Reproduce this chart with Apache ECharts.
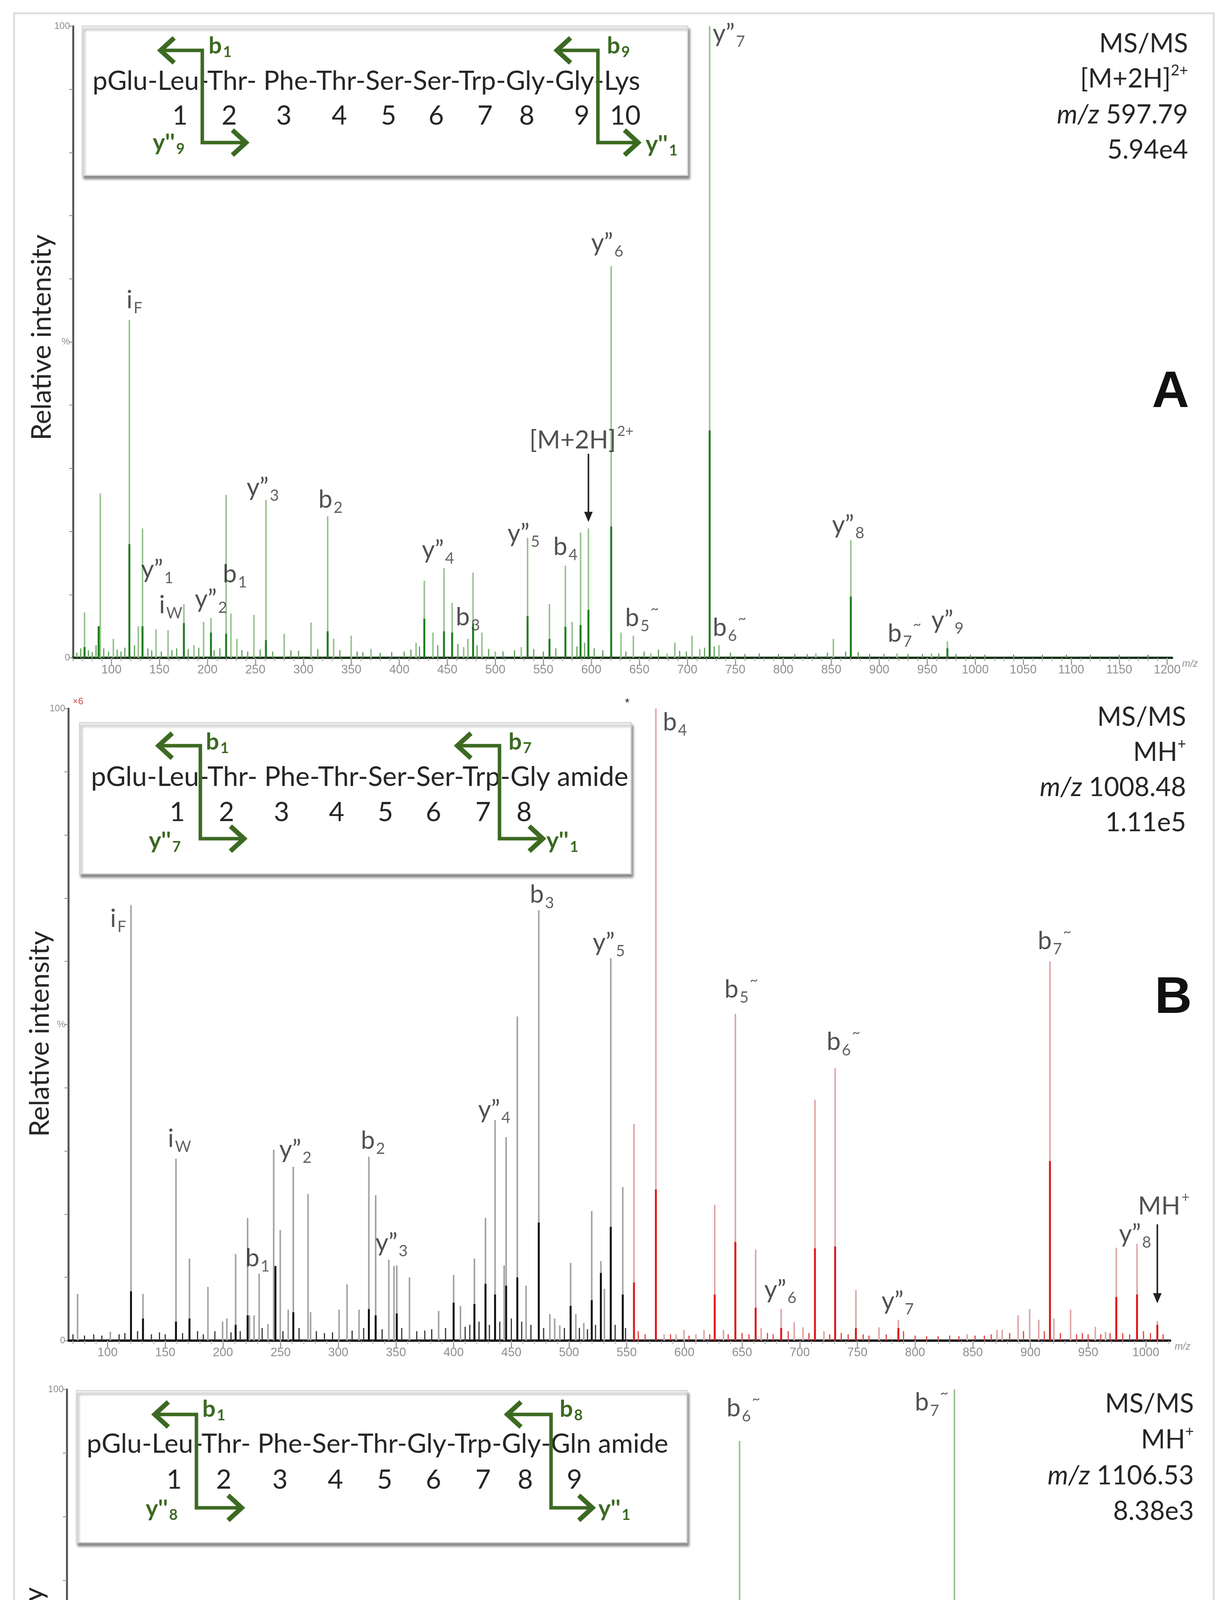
<!DOCTYPE html>
<html><head><meta charset="utf-8">
<script src="https://cdn.jsdelivr.net/npm/echarts@6/dist/echarts.min.js"></script>
<style>html,body{margin:0;padding:0;background:#fff}#c{width:3147px;height:5315px}</style>
</head><body><div id="c"></div>
<script>
// ---------------- DATA ----------------
// Panel A  [m/z, relative intensity %]
const peaksA = [[72,7.2],[86.7,5],[88.4,26],[102,3],[118.7,53.5],[128,5],[132.4,20.5],[146.5,4.5],[159,4.4],[175.5,8.5],[186,2],[196,5.7],[203.7,6.3],[219.5,25.8],[224.5,7],[230.7,3],[248.5,6.8],[261,25],[280,3.8],[308,5.6],[325.3,22.4],[331.5,3],[349.8,3.5],[370.5,1.4],[417.4,2.4],[426,12.2],[435,4],[446.5,14.2],[455,8.7],[467,1.7],[471.4,3],[476.8,13.5],[486,4],[500,1],[527,1.7],[533.6,19],[556.4,8.5],[573,14.6],[580,5.7],[588.8,19.8],[597,20.5],[620.7,62],[631,4],[643.8,3.5],[662,0.7],[679,0.7],[687,2.4],[705,3.5],[713,1.4],[723.3,100],[733,2],[834,0.7],[852.2,3],[870.4,18.6],[918.5,0.7],[954.5,0.7],[971,2.6]];
const coresA = [[72,1.7],[86.7,5],[118.7,18],[132.4,5],[175.5,5.5],[203.7,4],[219.5,3.8],[261,2.8],[325.3,4.2],[426,6.2],[446.5,4.2],[455,4],[476.8,5.5],[533.6,6.6],[556.4,3],[573,4.9],[588.8,5.2],[597,7.6],[620.7,20.8],[723.3,36],[870.4,9.7],[971,1.5]];
const noiseA = [[64,0.8],[68,1.5],[76,1.2],[80,0.9],[84,2],[92,1.5],[97,1],[106,1.3],[110,1],[114,1.6],[124,2],[138,1.5],[142,1.2],[152,1],[163,1.2],[168,1.5],[180,1.4],[191,1.6],[207,1.2],[213,1.5],[236,1.2],[242,1],[255,1.3],[268,1],[287,1.2],[295,1.1],[315,1.4],[338,1.2],[356,1],[362,0.9],[380,0.8],[392,0.9],[405,1],[412,1.3],[421,1.8],[440,2],[461,2.2],[481,2],[493,1.4],[508,1],[520,1.2],[540,1.4],[550,1],[563,1.5],[585,1.8],[593,2.4],[603,1.5],[612,1.2],[636,1],[655,1],[670,1.3],[692,1.1],[699,1],[718,1.6],[728,1.8],[745,0.8],[760,0.6],[775,0.7],[795,0.6],[812,0.6],[825,0.6],[846,0.8],[865,1],[878,0.9],[890,0.6],[905,0.6],[930,0.6],[945,0.6],[962,0.7],[980,0.6],[995,0.5],[1010,0.5],[1040,0.5],[1070,0.5],[1095,0.5],[1120,0.5],[1150,0.5],[1180,0.5]];
// labels: [m/z, y%, base, subscript, superscript]
const labelsA = [[115.8,56.6,'i','F',''],[131.1,13.9,'y”','1',''],[149.8,8.3,'i','W',''],[187.1,9.2,'y”','2',''],[216.2,13.2,'b','1',''],[241.1,26.9,'y”','3',''],[315.8,25,'b','2',''],[423.7,17,'y”','4',''],[459,6.4,'b','3',''],[512.9,19.6,'y”','5',''],[560.6,17.5,'b','4',''],[535.7,34.4,'[M+2H]','','2+'],[600,65.6,'y”','6',''],[726.7,98.8,'y”','7',''],[635.5,6.25,'b','5','~'],[726.7,4.7,'b','6','~'],[851,21,'y”','8',''],[909,3.8,'b','7','~'],[954.5,5.9,'y”','9','']];
const arrowsA = [[597,32.3,21.5]];
const ticksA = [100,150,200,250,300,350,400,450,500,550,600,650,700,750,800,850,900,950,1000,1050,1100,1150,1200];

// Panel B
const splitB = 551; // start of the x6 magnified (red) region
const peaksB = [[74,7.4],[102.4,1.4],[120.3,68.9],[130.7,7.4],[159.3,28.8],[171,13],[187,8.5],[199.7,3],[203.4,3.5],[211,13.7],[221.4,19.4],[223,4],[227,4],[231.4,10.6],[239,2.6],[244,30.2],[245.5,11.8],[249.7,17.5],[256.6,4.9],[261,27.5],[273.8,23.2],[276,4.5],[300.7,4.9],[307.6,8.9],[318,4.9],[326.5,29.1],[332.4,23],[343.8,12.8],[348.3,11.8],[350.7,11.9],[361.7,10],[387,4.7],[400,10.4],[405.9,5.5],[418,13],[427.6,19.4],[435.9,34.9],[443.8,11.9],[445.5,32.2],[455.2,51.3],[462.8,8.7],[473.8,68.1],[483.4,4.2],[487.6,3.5],[492,2.4],[501.4,12.3],[505.9,4.2],[512.8,2.8],[519.7,20.5],[527.6,12.6],[530.7,8.2],[536.2,60.5],[546.6,24.3],[556.3,34.3],[575.3,100],[582.5,1],[592.9,1],[599.7,1.7],[610,1],[617,1.7],[626.3,21.5],[633.9,1.7],[644.2,51.7],[661.8,14.4],[666.6,2],[683.9,5],[695.2,2.9],[702.8,2.1],[713.2,38.1],[721,1.5],[730.7,43.1],[748.7,8],[768.7,2.1],[785.5,3.3],[845.2,1],[871,1.7],[875.5,1.7],[889.3,4],[899.3,5],[907.2,3.3],[916.9,60],[920.3,3.5],[934.8,4.9],[956.2,2.2],[965.1,1.4],[974.4,14.7],[992.4,15.3],[1010,3.1]];
const coresB = [[120.3,7.8],[130.7,3.5],[159.3,3],[171,3.5],[211,2.5],[221.4,4],[245.5,11.8],[261,4.5],[326.5,5],[332.4,4],[350.7,4.3],[400,6],[418,5.8],[427.6,9],[435.9,7.3],[445.5,8.7],[455.2,10],[473.8,18.7],[501.4,5.5],[519.7,6.4],[527.6,10.7],[536.2,18],[546.6,7.3],[556.3,9.2],[575.3,23.9],[626.3,7.3],[644.2,15.6],[661.8,5.2],[683.9,2],[713.2,14.6],[730.7,14.9],[748.7,2],[785.5,2],[916.9,28.4],[974.4,6.9],[992.4,7.3],[1010,2.5]];
const noiseB = [[70,1],[80,0.8],[88,1],[95,0.8],[110,1],[115,1.2],[126,1.5],[138,1],[145,1.3],[150,1],[165,1.2],[178,1.5],[183,1],[193,1.5],[207,1.3],[215,1.5],[234,2],[252,1.5],[266,2],[281,1.5],[288,1.2],[295,1.3],[312,1.6],[322,2],[338,1.8],[355,2],[368,1.5],[375,1.6],[381,1.8],[393,2],[410,2.2],[414,2.5],[422,3],[431,2.5],[440,3],[450,3.5],[459,3],[467,2.5],[478,2],[496,2],[509,2],[516,1.8],[523,2.5],[540,2.5],[549,2],[560,1.5],[566,1],[588,1],[604,0.8],[622,1],[638,1],[650,1.2],[656,1],[672,1.2],[677,1],[690,1.5],[708,1.2],[726,1],[736,1.2],[742,1],[755,1],[760,0.8],[775,1],[790,1.5],[800,0.8],[810,0.7],[820,0.7],[830,0.8],[838,0.7],[852,0.8],[860,0.8],[866,1],[882,1.2],[894,1.5],[912,1.5],[926,1.2],[940,1],[945,1.2],[950,1],[961,1],[969,1.2],[980,1.2],[986,1],[998,1.5],[1004,1.2],[1015,1]];
const labelsB = [[102.4,66.7,'i','F',''],[152.4,31.9,'i','W',''],[219.7,13,'b','1',''],[249,30.2,'y”','2',''],[319.7,31.6,'b','2',''],[332.4,15.4,'y”','3',''],[421.4,36.5,'y”','4',''],[466.2,70.5,'b','3',''],[520.7,62.9,'y”','5',''],[581.5,97.8,'b','4',''],[634.9,55.5,'b','5','~'],[723.5,47.2,'b','6','~'],[669.4,8,'y”','6',''],[771.1,6.2,'y”','7',''],[906.5,63.2,'b','7','~'],[976.9,16.8,'y”','8',''],[993.4,21.2,'MH','','+']];
const arrowsB = [[1010,18.4,5.9]];
const ticksB = [100,150,200,250,300,350,400,450,500,550,600,650,700,750,800,850,900,950,1000];

// Panel C
const peaksC = [[69.7,1.6],[75.4,1.2],[88.7,16.2],[95.5,2.5],[99.2,2.1],[119.7,22.6],[127.2,2.1],[133.3,13.1],[146.1,3.3],[158.6,8.6],[176.4,5.8],[185.9,4.4],[191.9,3.5],[202.9,3.5],[215.4,3.5],[221,4.6],[244.1,12.4],[257,2.1],[260.7,2.3],[300.5,1.8],[317.5,3.3],[325.4,8.6],[344.3,4.6],[355.3,2.6],[371.6,11],[388.6,12.6],[402.6,4.2],[410.1,2.8],[418.5,3.9],[427.9,9.6],[431.7,7.4],[444.9,20.2],[454.4,19.9],[472.5,24.8],[488.8,8.4],[505.4,1.6],[511.1,3.2],[528.5,23.4],[541.4,8.2],[545.5,31.4],[550.8,4],[559.2,20.6],[579.3,10.5],[598.3,7.6],[617.1,18.3],[624.3,6.7],[633.8,29],[642.4,34.4],[651.9,3.2],[660.6,11.7],[673,2.5],[681.3,9.3],[699.8,91.9],[717.6,44.3],[736,2.6],[762.9,10.5],[779.5,12.6],[788.5,2.6],[826.3,2.5],[838.7,3.5],[855.7,4.7],[863.3,4],[874.6,35.3],[880.3,8.4],[884.8,4.6],[903.7,100],[923.7,4],[940.7,4.2],[959.5,30.7],[976.5,5.4],[990.5,3.5],[1025.6,3.2],[1052,4.2],[1069.4,17.7],[1087.5,29.7],[1099.2,3.2],[1104.9,21.8]];
const coresC = [[88.7,4.6],[119.7,2.1],[388.6,4.2],[427.9,4.6],[444.9,8],[454.4,3.9],[472.5,7.7],[528.5,7],[545.5,18.6],[559.2,5],[598.3,5],[617.1,8.8],[633.8,8.1],[642.4,10.2],[681.3,5],[699.8,29.9],[717.6,20.4],[779.5,5.6],[874.6,7.4],[903.7,46],[959.5,18.6],[1069.4,10.2],[1087.5,22.1],[1104.9,14]];
const noiseC = [[66,1],[72,1.2],[79,1.5],[83,1.2],[92,1.3],[104,1.5],[108,1.2],[113,1.5],[123,1.8],[138,1.6],[141,2],[151,1.5],[163,2],[168,1.6],[172,1.8],[180,2.2],[196,2],[207,2],[211,1.8],[226,2],[232,1.5],[238,1.2],[250,1.5],[265,1.8],[270,1.4],[276,1.2],[283,1.3],[290,1.5],[296,1.6],[305,1.5],[310,1.8],[321,1.6],[332,1.4],[338,1.6],[350,1.5],[361,2],[366,1.6],[377,2],[382,1.8],[395,2],[414,2.5],[422,2.4],[437,2.6],[440,3],[449,3],[460,2.2],[466,2],[478,2],[483,1.8],[494,2],[499,1.6],[517,2.2],[522,1.8],[534,2.5],[555,2.4],[565,2],[572,2.5],[585,2.5],[590,2],[604,2.2],[610,2],[628,2.2],[646,2.5],[656,2],[666,2.2],[687,2],[693,1.8],[705,2.4],[711,1.8],[724,2],[730,1.5],[742,1.5],[748,1.6],[755,1.5],[768,1.8],[773,2],[784,2],[795,1.6],[801,1.5],[808,1.6],[815,1.4],[820,1.6],[832,1.8],[845,2.5],[850,2],[859,2.2],[869,2.2],[890,2.2],[896,1.8],[910,2],[916,1.8],[930,2],[935,1.8],[946,1.8],[952,2],[966,2.2],[970,1.8],[983,2],[996,2],[1002,1.6],[1010,1.8],[1018,1.5],[1032,1.8],[1038,1.6],[1045,1.8],[1058,2],[1063,1.8],[1076,2],[1081,1.8],[1093,2.2],[1110,2]];
const labelsC = [[113.2,26,'i','F',''],[154.1,11.7,'i','W',''],[189.6,6.7,'y”','2',''],[215.4,11,'b','1',''],[316.7,10.7,'b','2',''],[370.4,14.4,'y”','3',''],[427.9,24.1,'y”','4',''],[460,28.1,'b','3',''],[529.3,34.2,'y”','5',''],[553.1,23.2,'b','4',''],[687.7,97,'b','6','~'],[866.3,97.9,'b','7','~'],[634.9,37.7,'b','5','~'],[614.1,31.3,'y”','6',''],[761.4,14.9,'y”','7',''],[864.4,13.4,'y”','8',''],[950.9,34.2,'b','8',''],[1070.9,33.9,'M+H','','+']];
const arrowsC = [[1104.9,36.5,23.5]];
const ticksC = [100,150,200,250,300,350,400,450,500,550,600,650,700,750,800,850,900,950,1000,1050,1100];

// sequences / info text
const seqA = 'pGlu-Leu-Thr- Phe-Thr-Ser-Ser-Trp-Gly-Gly-Lys';
const seqB = 'pGlu-Leu-Thr- Phe-Thr-Ser-Ser-Trp-Gly amide';
const seqC = 'pGlu-Leu-Thr- Phe-Ser-Thr-Gly-Trp-Gly-Gln amide';
const infoA = ['MS/MS','[M+2H]{sup|2+}','{it|m/z} 597.79','5.94e4'];
const infoB = ['MS/MS','MH{sup|+}','{it|m/z} 1008.48','1.11e5'];
const infoC = ['MS/MS','MH{sup|+}','{it|m/z} 1106.53','8.38e3'];

// ---------------- LAYOUT ----------------
const FONT = 'Lato';
const GREEN = '#3c6a22';
const grids = [
  {left:187, top:67, width:2814, height:1617, min:60, max:1205, ticks:ticksA, base:'#1c331c'},
  {left:175, top:1814, width:2821, height:1618, min:66, max:1021, ticks:ticksB, base:'#151515'},
  {left:171, top:3557, width:2846, height:1629, min:61.5, max:1116, ticks:ticksC, base:'#1e5e1e'}
];
function minorTicks(min,max){const a=[];for(let v=Math.ceil(min/10)*10;v<=max;v+=10)a.push(v);return a;}

const xAxes=[], yAxes=[];
grids.forEach((g,i)=>{
  xAxes.push({type:'value',gridIndex:i,position:'bottom',min:g.min,max:g.max,splitLine:{show:false},
    axisLine:{show:true,onZero:false,lineStyle:{color:g.base,width:6}},
    axisTick:{show:true,customValues:g.ticks,length:18,lineStyle:{color:'#9a9a9a',width:3}},
    axisLabel:{customValues:g.ticks,fontSize:31,color:'#8e8e8e',margin:16,fontFamily:'Liberation Sans',formatter:v=>String(v)},
    name:'m/z',nameLocation:'end',nameGap:12,
    nameTextStyle:{fontSize:25,color:'#8e8e8e',fontStyle:'italic',fontFamily:'Liberation Sans',verticalAlign:'top',padding:[4,0,0,0]}});
  xAxes.push({type:'value',gridIndex:i,position:'bottom',min:g.min,max:g.max,splitLine:{show:false},
    axisLine:{show:false},axisLabel:{show:false},
    axisTick:{show:true,customValues:minorTicks(g.min,g.max),length:9,lineStyle:{color:'#a8a8a8',width:2}}});
  yAxes.push({type:'value',gridIndex:i,min:0,max:100,interval:10,splitLine:{show:false},
    axisLine:{show:true,lineStyle:{color:'#555',width:5}},
    axisTick:{show:true,length:10,lineStyle:{color:'#8a8a8a',width:2}},
    axisLabel:{fontSize:24,color:'#8e8e8e',margin:8,fontFamily:'Liberation Sans',
      formatter:v=>v===100?'100':(v===50?'%':(v===0?'0':''))}});
});

function stick(i,data,colorFn,w,z){
  return {type:'custom',xAxisIndex:2*i,yAxisIndex:i,data:data,z:z,silent:true,encode:{x:0,y:1},
    renderItem:(p,api)=>{const x=api.value(0),h=api.value(1);const a=api.coord([x,0]),b=api.coord([x,h]);
      return {type:'line',shape:{x1:a[0],y1:a[1],x2:b[0],y2:b[1]},style:{stroke:colorFn(x),lineWidth:w}};}};
}
const richLbl = {
  b:{fontSize:64,fontFamily:FONT,color:'#262626',lineHeight:82},
  s:{fontSize:40,fontFamily:FONT,color:'#3a3a3a',lineHeight:40,verticalAlign:'bottom',padding:[0,0,0,3]},
  p:{fontSize:36,fontFamily:FONT,color:'#3a3a3a',lineHeight:36,verticalAlign:'top',padding:[0,0,0,3]}
};
function labelSeries(i,labels){
  return {type:'scatter',xAxisIndex:2*i,yAxisIndex:i,symbolSize:1,itemStyle:{color:'rgba(0,0,0,0)'},z:6,silent:true,
    data:labels.map(l=>({value:[l[0],l[1]],t:l})),
    label:{show:true,position:[0,0],align:'left',verticalAlign:'middle',rich:richLbl,
      formatter:p=>{const t=p.data.t;return '{b|'+t[2]+'}'+(t[3]?'{s|'+t[3]+'}':'')+(t[4]?'{p|'+t[4]+'}':'');}}};
}
function arrowSeries(i,arrows){
  return {type:'custom',xAxisIndex:2*i,yAxisIndex:i,data:arrows,z:7,silent:true,
    renderItem:(p,api)=>{const x=api.value(0);const a=api.coord([x,api.value(1)]),b=api.coord([x,api.value(2)]);
      return {type:'group',children:[
        {type:'line',shape:{x1:a[0],y1:a[1],x2:b[0],y2:b[1]-20},style:{stroke:'#222',lineWidth:4}},
        {type:'polygon',shape:{points:[[b[0]-11,b[1]-26],[b[0]+11,b[1]-26],[b[0],b[1]]]},style:{fill:'#222'}}]};}};
}
const colA = {light:()=> '#98c491', core:()=> '#1f7d1f', noise:()=> '#5fa05a'};
const colB = {light:x=> x<splitB?'#a3a3a3':'#dfa6a6', core:x=> x<splitB?'#111111':'#e0191b', noise:x=> x<splitB?'#333':'#e04040'};
const series = [
  stick(0,noiseA,colA.noise,3,2), stick(0,peaksA,colA.light,4,3), stick(0,coresA,colA.core,5,4),
  labelSeries(0,labelsA), arrowSeries(0,arrowsA),
  stick(1,noiseB,colB.noise,3,2), stick(1,peaksB,colB.light,4,3), stick(1,coresB,colB.core,5,4),
  labelSeries(1,labelsB), arrowSeries(1,arrowsB),
  stick(2,noiseC,colA.noise,3,2), stick(2,peaksC,colA.light,4,3), stick(2,coresC,colA.core,5,4),
  labelSeries(2,labelsC), arrowSeries(2,arrowsC)
];

// ---------------- GRAPHICS (insets, titles) ----------------
const G = [];
G.push({type:'rect',shape:{x:36,y:34,width:3072,height:5237},style:{fill:'none',stroke:'#dedede',lineWidth:5},z:0,silent:true});
function bracket(vx,yT,yB,tipT,tipB){
  G.push({type:'polyline',shape:{points:[[tipT+6,yT],[vx,yT],[vx,yB],[tipB-6,yB]]},style:{stroke:GREEN,lineWidth:9,fill:'none',lineJoin:'miter'},z:12});
  G.push({type:'polyline',shape:{points:[[tipT+38,yT-32],[tipT+3,yT],[tipT+38,yT+32]]},style:{stroke:GREEN,lineWidth:12,fill:'none',lineJoin:'miter'},z:12});
  G.push({type:'polyline',shape:{points:[[tipB-38,yB-32],[tipB-3,yB],[tipB-38,yB+32]]},style:{stroke:GREEN,lineWidth:12,fill:'none',lineJoin:'miter'},z:12});
}
const richIn = {
  b:{fill:GREEN,fontSize:60,fontWeight:'bold',fontFamily:FONT,lineHeight:70},
  s:{fill:GREEN,fontSize:38,fontWeight:'bold',fontFamily:FONT,lineHeight:38,verticalAlign:'bottom',padding:[0,0,0,3]}
};
function inLabel(x,y,base,sub){
  G.push({type:'text',x:x,y:y,z:13,style:{text:'{b|'+base+'}{s|'+sub+'}',rich:richIn,align:'left',verticalAlign:'middle'}});
}
function inset(c){
  G.push({type:'rect',shape:{x:c.x0,y:c.y0,width:c.x1-c.x0,height:c.y1-c.y0},
    style:{fill:'#fff',stroke:'#d4d4d4',lineWidth:3,shadowBlur:6,shadowOffsetX:4,shadowOffsetY:8,shadowColor:'rgba(0,0,0,0.45)'},z:10});
  G.push({type:'text',x:c.sx,y:c.sy,z:11,style:{text:c.seq,font:c.fs+'px '+FONT,fill:'#262626',align:'left',verticalAlign:'middle'}});
  c.nums.forEach((nx,k)=>G.push({type:'text',x:nx,y:c.ny,z:11,style:{text:String(k+1),font:'68px '+FONT,fill:'#262626',align:'center',verticalAlign:'middle'}}));
  bracket(c.l[0],c.l[1],c.l[2],c.l[3],c.l[4]);
  bracket(c.r[0],c.r[1],c.r[2],c.r[3],c.r[4]);
  c.lbl.forEach(l=>inLabel(l[0],l[1],l[2],l[3]));
}
inset({x0:211,y0:67,x1:1761,y1:449,seq:seqA,fs:68,sx:237,sy:208,ny:297,
  nums:[461,587,727,869,995,1117,1242,1349,1490,1601],
  l:[518,129,365,408,633], r:[1531,129,365,1423,1637],
  lbl:[[534,118,'b','1'],[391,366,"y''",'9'],[1554,118,'b','9'],[1653,370,"y''",'1']]});
inset({x0:204,y0:1850,x1:1616,y1:2237,seq:seqB,fs:69,sx:233,sy:1990,ny:2080,
  nums:[454,580,721,862,987,1110,1237,1342],
  l:[513,1909,2147,403,628], r:[1279,1909,2147,1168,1393],
  lbl:[[527,1900,'b','1'],[381,2153,"y''",'7'],[1302,1900,'b','7'],[1399,2153,"y''",'1']]});
inset({x0:196,y0:3560,x1:1759,y1:3949,seq:seqC,fs:68,sx:222,sy:3697,ny:3789,
  nums:[446,573,717,859,985,1110,1237,1345,1471],
  l:[503,3621,3860,393,622], r:[1411,3621,3860,1296,1520],
  lbl:[[518,3608,'b','1'],[373,3863,"y''",'8'],[1433,3608,'b','8'],[1532,3863,"y''",'1']]});

const richInfo = {sup:{fontSize:38,fontFamily:FONT,fill:'#262626',verticalAlign:'top',lineHeight:38},
  it:{fontSize:67,fontFamily:FONT,fontStyle:'italic',fill:'#262626',lineHeight:80}};
function info(lines,xr,ys){
  lines.forEach((t,k)=>G.push({type:'text',x:xr,y:ys[k],z:11,
    style:{text:t,rich:richInfo,fontSize:67,fontFamily:FONT,fill:'#262626',align:'right',verticalAlign:'middle',lineHeight:80}}));
}
info(infoA,3042,[112,202,294,384]);
info(infoB,3037,[1836,1926,2016,2106]);
info(infoC,3057,[3594,3686,3778,3869]);
function big(t,xr,yc){G.push({type:'text',x:xr,y:yc,z:11,style:{text:t,font:'bold 132px "Liberation Sans"',fill:'#111',align:'right',verticalAlign:'middle'}});}
big('A',3045,1006); big('B',3052,2557); big('C',3025,4310);
function ytitle(x,y){G.push({type:'text',x:x,y:y,rotation:Math.PI/2,z:11,style:{text:'Relative intensity',font:'70px '+FONT,fill:'#262626',align:'center',verticalAlign:'middle'}});}
ytitle(107,864); ytitle(102,2647); ytitle(87,4327);
G.push({type:'text',x:186,y:1796,z:11,style:{text:'×6',font:'24px "Liberation Sans"',fill:'#d04a4a',align:'left',verticalAlign:'middle'}});
G.push({type:'text',x:1606,y:1800,z:11,style:{text:'*',font:'30px "Liberation Sans"',fill:'#222',align:'center',verticalAlign:'middle'}});

const chart = echarts.init(document.getElementById('c'),null,{renderer:'canvas'});
chart.setOption({
  animation:false, backgroundColor:'#fff',
  grid: grids.map(g=>({left:g.left,top:g.top,width:g.width,height:g.height,containLabel:false})),
  xAxis:xAxes, yAxis:yAxes, series:series, graphic:{elements:G}
});
</script></body></html>
